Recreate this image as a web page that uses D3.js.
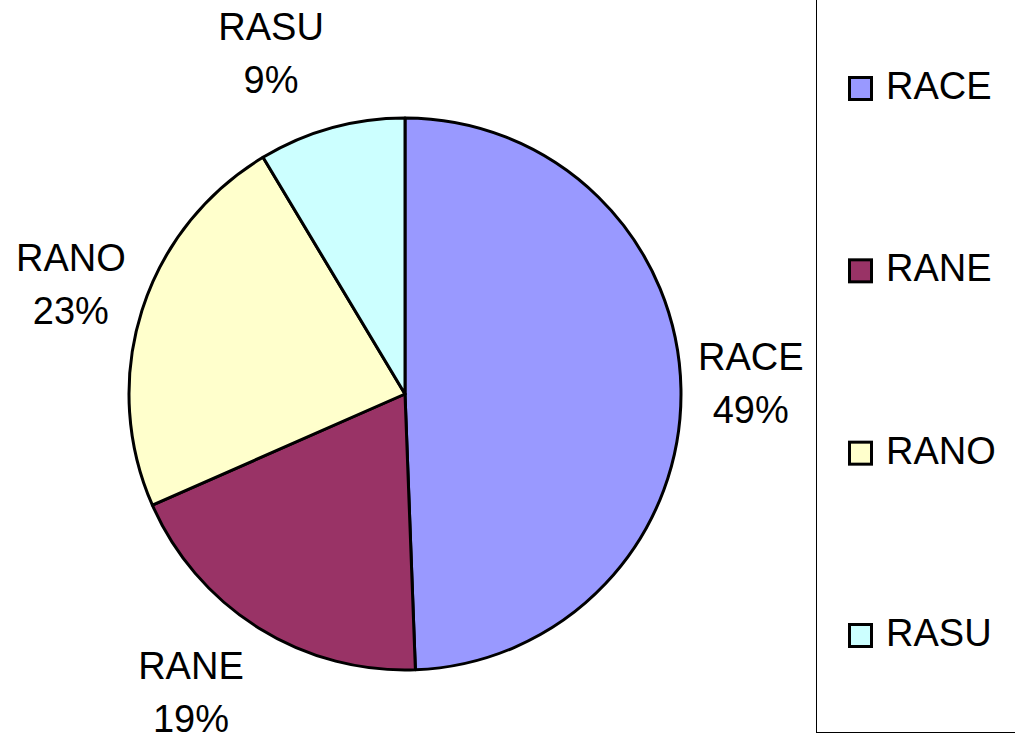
<!DOCTYPE html>
<html>
<head>
<meta charset="utf-8">
<script src="https://cdn.jsdelivr.net/npm/d3@7"></script>
<style>
  body { margin: 0; background: #fff; }
  text { font-family: "Liberation Sans", Arial, sans-serif; }
</style>
</head>
<body>
<div id="chart"></div>
<script>
// pie of the four regions

var categories = ['RACE', 'RANE', 'RANO', 'RASU'];
var values = [49.4, 19.0, 23.0, 8.6];
var pctLabels = ['49%', '19%', '23%', '9%'];
var colors = ['#9999FF', '#993366', '#FFFFCC', '#CCFFFF'];

var opts = {
  width: 1015,
  height: 740,
  cx: 405,
  cy: 394,
  r: 276,
  fontSize: 38,
  lineGap: 53
};

var svg = d3.select('#chart').append('svg')
  .attr('width', opts.width)
  .attr('height', opts.height);

var color = d3.scaleOrdinal().domain(categories).range(colors);

var pie = d3.pie().sort(null).value(function(d) { return d.value; });
var arc = d3.arc().innerRadius(0).outerRadius(opts.r);

var data = categories.map(function(c, i) {
  return { name: c, value: values[i], pct: pctLabels[i] };
});
var arcs = pie(data);

var g = svg.append('g')
  .attr('transform', 'translate(' + opts.cx + ',' + opts.cy + ')');

g.selectAll('path.slice')
  .data(arcs)
  .enter().append('path')
  .attr('class', 'slice')
  .attr('d', arc)
  .attr('fill', function(d) { return color(d.data.name); })
  .attr('stroke', '#000')
  .attr('stroke-width', 3)
  .attr('stroke-linejoin', 'round');

// labels, placed outside the pie like excel does it
var labels = g.selectAll('g.lbl')
  .data(arcs)
  .enter().append('g')
  .attr('class', 'lbl');

labels.append('text')
  .attr('text-anchor', 'middle')
  .attr('font-size', opts.fontSize)
  .attr('y', 0)
  .text(function(d) { return d.data.name; });
labels.append('text')
  .attr('text-anchor', 'middle')
  .attr('font-size', opts.fontSize)
  .attr('y', opts.lineGap)
  .text(function(d) { return d.data.pct; });

labels.attr('transform', function(d) {
  var bb = this.getBBox();
  var w = bb.width, h = 27 + opts.lineGap + 8;
  var a = (d.startAngle + d.endAngle) / 2;
  var ux = Math.sin(a), uy = -Math.cos(a);
  var px, py, ox, oy;
  if (Math.abs(uy) < 0.5) {
    // near horizontal: the box edge sits on the ray
    var dist = opts.r + 17;
    px = ux * dist; py = uy * dist;
    var t = Math.min((w / 2) / Math.abs(ux), (h / 2) / Math.abs(uy));
    ox = ux * t; oy = uy * t;
  } else {
    // otherwise the nearest corner sits on the ray
    var dist2 = opts.r + 28;
    px = ux * dist2; py = uy * dist2;
    ox = (ux < 0 ? -1 : 1) * w / 2;
    oy = (uy < 0 ? -1 : 1) * h / 2;
  }
  var cxl = px + ox, cyl = py + oy;
  // center of box -> baseline of first line
  return 'translate(' + cxl + ',' + (cyl - h / 2 + 27) + ')';
});

// legend
var legend = svg.append('g').attr('class', 'legend');
legend.append('rect')
  .attr('x', 816.5)
  .attr('y', -5)
  .attr('width', 300)
  .attr('height', 737.5)
  .attr('fill', 'none')
  .attr('stroke', '#000')
  .attr('stroke-width', 1);

var ly = d3.scalePoint().domain(categories).range([88, 635]);

var items = legend.selectAll('g.item')
  .data(categories)
  .enter().append('g')
  .attr('class', 'item')
  .attr('transform', function(d) { return 'translate(0,' + ly(d) + ')'; });

items.append('rect')
  .attr('x', 849.5)
  .attr('y', -10.5)
  .attr('width', 22)
  .attr('height', 22)
  .attr('fill', function(d) { return color(d); })
  .attr('stroke', '#000')
  .attr('stroke-width', 3);

items.append('text')
  .attr('x', 886)
  .attr('y', 11)
  .attr('font-size', opts.fontSize)
  .text(function(d) { return d; });
</script>
</body>
</html>
